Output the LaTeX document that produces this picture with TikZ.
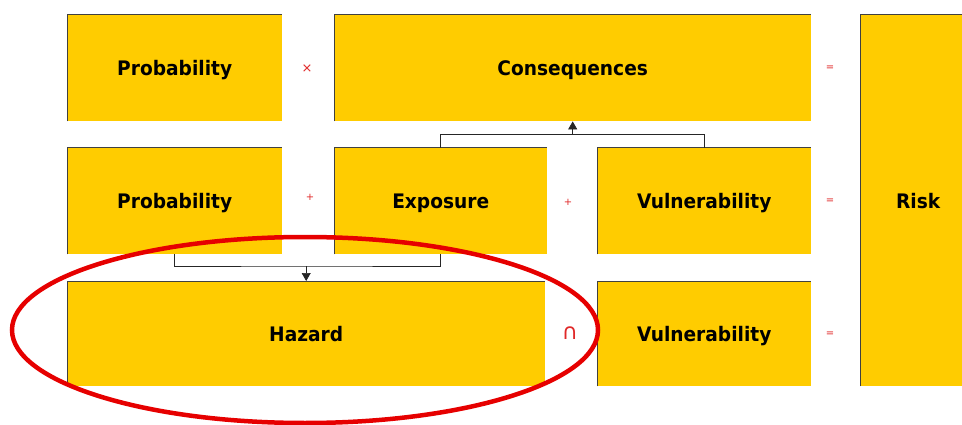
\documentclass[tikz,border=0pt]{standalone}
\usepackage{fontspec}
\setmainfont{DejaVu Sans}[FakeStretch=0.93]
\newfontfamily\opfont{DejaVu Sans}
\usetikzlibrary{arrows.meta,calc}
\definecolor{boxyellow}{HTML}{FFCC00}
\definecolor{opred}{HTML}{E02828}
\definecolor{ringred}{HTML}{E60000}
\begin{document}
\begin{tikzpicture}[x=1pt,y=-1pt,
  box/.style={fill=boxyellow, inner sep=0pt, anchor=north west,
    text height=14.6pt, text depth=0pt,
    font=\fontsize{20}{24}\selectfont\bfseries, text=black},
  edge/.style={draw=black!75, line width=1pt},
  op/.style={text=opred, inner sep=0pt, font=\opfont\fontsize{10}{12}\selectfont},
  conn/.style={draw=black!85, line width=0.7pt},
  tip/.style={conn, -{Triangle[width=9pt,length=8pt]}}]
\useasboundingbox (0,0) rectangle (962,425);
% boxes
\node[box, minimum width=215pt, minimum height=106pt] (p1) at (67,15) {Probability};
\node[box, minimum width=477pt, minimum height=106pt] (cons) at (334,15) {Consequences};
\node[box, minimum width=104pt, minimum height=371pt, text width=104pt, align=center] (risk) at (860,15) {\hspace*{12pt}Risk};
\node[box, minimum width=215pt, minimum height=106pt] (p2) at (67,148) {Probability};
\node[box, minimum width=213pt, minimum height=106pt] (ex) at (334,148) {Exposure};
\node[box, minimum width=214pt, minimum height=106pt] (v1) at (597,148) {Vulnerability};
\node[box, minimum width=478pt, minimum height=105pt] (hz) at (67,281) {Hazard};
\node[box, minimum width=214pt, minimum height=105pt] (v2) at (597,281) {Vulnerability};
% shaded top/left edges
\foreach \n in {p1,cons,risk,p2,ex,v1,hz,v2}{
  \draw[edge] (\n.south west) -- (\n.north west) -- (\n.north east);
}
% operators
\node[op, font=\opfont\fontsize{13}{14}\selectfont] (o1) at (307,69) {×};
\node[op] (o2) at (310,197) {+};
\node[op] (o3) at (568,202) {+};
\node[op] (o4) at (830,68) {=};
\node[op] (o5) at (830,201) {=};
\node[op, font=\opfont\fontsize{22}{24}\selectfont] (o6) at (570,333) {∩};
\node[op] (o7) at (830,334) {=};
% connectors
\coordinate (j1) at ($(cons.south)+(0,13)$);
\draw[conn] (ex.north) |- (j1) -| (v1.north);
\draw[tip] (j1) -- (cons.south);
\coordinate (j2) at ($(hz.north)+(0,-15)$);
\draw[conn] (p2.south) |- (j2) -| (ex.south);
\draw[tip] (j2) -- (hz.north);
% ring
\coordinate (rc) at (305,330);
\draw[draw=ringred, line width=4.5pt] (rc) ellipse [x radius=293pt, y radius=93pt];
\end{tikzpicture}
\end{document}
